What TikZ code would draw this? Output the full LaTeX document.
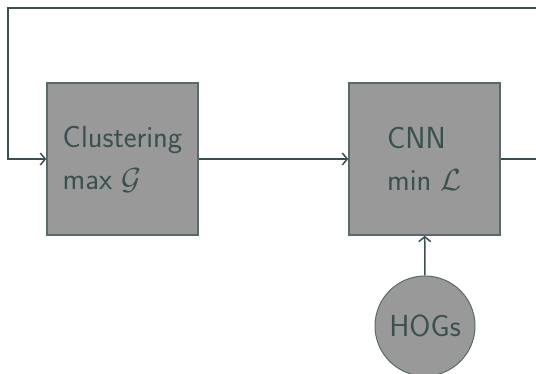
\documentclass[tikz,border=0pt]{standalone}
\usepackage{fix-cm}
\usepackage{fontspec}
\usepackage{tikz}
\usetikzlibrary{arrows.meta,positioning}
\definecolor{slate}{RGB}{58,80,80}

\begin{document}
\begin{tikzpicture}[x=1pt,y=1pt,
    block/.style={rectangle, draw=slate!85, fill=black!40, line width=1.5pt, minimum width=151pt, minimum height=152pt, align=left, text=slate, font=\fontsize{30.5}{42}\selectfont\sffamily},
    feature/.style={circle, draw=slate!85, fill=black!40, line width=1pt, minimum size=100pt, inner sep=0pt, text=slate, font=\fontsize{30.5}{42}\selectfont\sffamily},
    link/.style={-{Straight Barb[length=5pt,width=12pt]}, draw=slate, line width=1.5pt}]
    \useasboundingbox (0,0) rectangle (536,374);
    \clip (0,0) rectangle (536,374);
    \node[block] (clust) at (122.5,215) {Clustering\\max $\mathcal{G}$};
    \node[block] (cnn) at (424.5,215) {CNN\\min $\mathcal{L}$};
    \node[feature] (hogs) at (425,48) {HOGs};
    \draw[link] (clust) -- (cnn);
    \draw[link] (hogs) -- (cnn);
    % feedback loop round the top, back into the clustering
    \coordinate (out) at (560,215);
    \coordinate (top) at (8,366);
    \draw[link] (cnn.east) -- (out) |- (top) |- (clust.west);
\end{tikzpicture}
\end{document}
